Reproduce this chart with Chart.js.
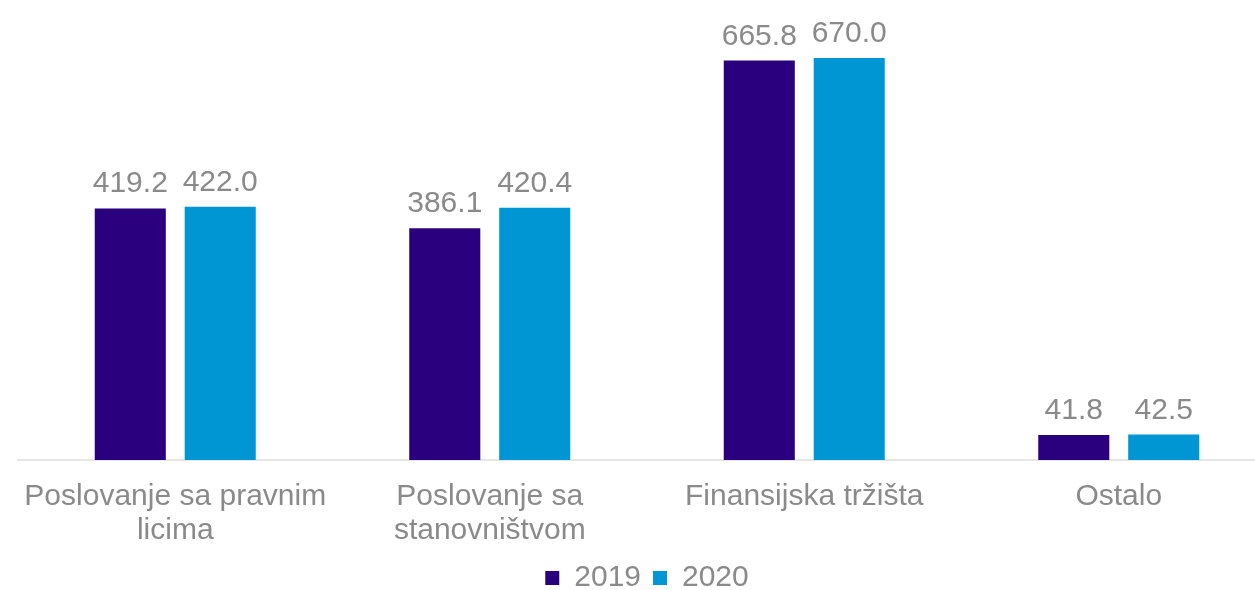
<!DOCTYPE html>
<html>
<head>
<meta charset="utf-8">
<script src="https://cdn.jsdelivr.net/npm/chart.js@4"></script>
<style>
html,body{margin:0;padding:0;background:#fff;overflow:hidden;width:1255px;height:590px;}
#wrap{position:absolute;left:0;top:0;width:1300px;height:603px;}
</style>
</head>
<body>
<div id="wrap"><canvas id="c" width="1300" height="603"></canvas></div>
<script>
const categories = [["Poslovanje sa pravnim","licima"],["Poslovanje sa","stanovništvom"],"Finansijska tržišta","Ostalo"];
const seriesNames = ["2019","2020"];
const values2019 = [419.2, 386.1, 665.8, 41.8];
const values2020 = [422.0, 420.4, 670.0, 42.5];
const colors = ["#2a007e","#0096d4"];
const FONT = "'Liberation Sans', Arial, sans-serif";
const GRAY = "#8a8a8a";

const labelPlugin = {
  id: 'valueLabels',
  afterDatasetsDraw(chart) {
    const ctx = chart.ctx;
    ctx.save();
    ctx.font = "30px " + FONT;
    ctx.fillStyle = GRAY;
    ctx.textAlign = 'center';
    ctx.textBaseline = 'alphabetic';
    chart.data.datasets.forEach((ds, i) => {
      const meta = chart.getDatasetMeta(i);
      meta.data.forEach((el, j) => {
        ctx.fillText(ds.data[j].toFixed(1), el.x, el.y - 16);
      });
    });
    ctx.restore();
  }
};

new Chart(document.getElementById('c'), {
  type: 'bar',
  data: {
    labels: categories,
    datasets: [
      {label: seriesNames[0], data: values2019, backgroundColor: colors[0], categoryPercentage: 0.572, barPercentage: 0.79},
      {label: seriesNames[1], data: values2020, backgroundColor: colors[1], categoryPercentage: 0.572, barPercentage: 0.79}
    ]
  },
  options: {
    responsive: false,
    devicePixelRatio: 1,
    animation: false,
    layout: {padding: {left: 18, right: 24, top: 40, bottom: 0}},
    plugins: {
      legend: {
        position: 'bottom',
        labels: {boxWidth: 14, boxHeight: 14, padding: 12, color: GRAY, font: {family: FONT, size: 30}}
      },
      tooltip: {enabled: false}
    },
    scales: {
      x: {
        grid: {display: false, drawTicks: false},
        border: {display: true, color: '#e6e6e6', width: 2},
        ticks: {color: GRAY, font: {family: FONT, size: 30, lineHeight: 1.15}, padding: 19, autoSkip: false, maxRotation: 0, minRotation: 0},
        afterFit(scale) { scale.height = scale.height - 16; }
      },
      y: {
        display: false,
        min: 0,
        max: 700
      }
    }
  },
  plugins: [labelPlugin]
});
</script>
</body>
</html>
